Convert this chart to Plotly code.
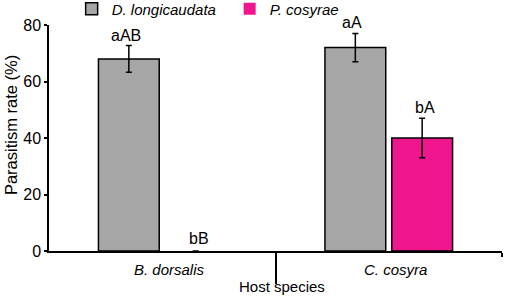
import plotly.graph_objects as go

hosts = ["B. dorsalis", "C. cosyra"]
host_pos = [0, 1]
series_names = ["D. longicaudata", "P. cosyrae"]
d_vals = [68, 72]
d_err = [4.7, 5.0]
p_vals = [0, 40]
p_err = [None, 7.0]
d_letters = ["aAB", "aA"]
p_letters = ["bB", "bA"]
y_ticks = [0, 20, 40, 60, 80]
x_title = "Host species"
y_title = "Parasitism rate (%)"

FONT = "Arial, Liberation Sans, sans-serif"
GRAY = "#a6a6a6"
PINK = "#f0168e"

fig = go.Figure()
fig.add_trace(go.Bar(
    x=host_pos, y=d_vals, name="<i>%s</i>" % series_names[0],
    marker=dict(color=GRAY, line=dict(color="black", width=1.5)),
    error_y=dict(type="data", array=d_err, visible=True, color="black", thickness=1.5, width=3),
))
fig.add_trace(go.Bar(
    x=host_pos, y=p_vals, name="<i>%s</i>" % series_names[1],
    marker=dict(color=PINK, line=dict(color="black", width=[0 if v == 0 else 1.5 for v in p_vals])),
    error_y=dict(type="data", array=p_err, visible=True, color="black", thickness=1.5, width=3),
))

annotations = []
offset = 0.161
for i, xp in enumerate(host_pos):
    for sgn, vals, errs, letters in [(-1, d_vals, d_err, d_letters), (1, p_vals, p_err, p_letters)]:
        top = vals[i] + (errs[i] or 0)
        annotations.append(dict(
            x=xp + sgn * offset, y=top, xref="x", yref="y", text=letters[i],
            showarrow=False, yanchor="bottom", yshift=0 if top > 0 else 2,
            font=dict(family=FONT, size=16, color="black")))
    annotations.append(dict(
        x=xp, y=0, xref="x", yref="y", text="<i>%s</i>" % hosts[i],
        showarrow=False, yanchor="top", yshift=-8, xshift=7,
        font=dict(family=FONT, size=15, color="black")))
annotations.append(dict(
    x=0.5, y=0, xref="x", yref="y", text=x_title,
    showarrow=False, yanchor="top", yshift=-25, xshift=6,
    font=dict(family=FONT, size=15, color="black")))
annotations.append(dict(
    x=0, y=0.557, xref="paper", yref="paper", text=y_title, textangle=-90,
    showarrow=False, xanchor="center", yanchor="middle", xshift=-38,
    font=dict(family=FONT, size=16.5, color="black")))

fig.update_layout(
    width=505, height=297,
    margin=dict(l=49, r=3, t=25, b=46, autoexpand=False),
    paper_bgcolor="white", plot_bgcolor="white",
    barmode="group", bargap=0.41, bargroupgap=0.09,
    font=dict(family=FONT, size=15, color="black"),
    showlegend=True,
    legend=dict(orientation="h", x=0.05, xanchor="left", yref="paper", y=1.071, yanchor="middle",
                font=dict(family=FONT, size=15), entrywidth=113,
                tracegroupgap=0, bgcolor="rgba(0,0,0,0)"),
    annotations=annotations,
    xaxis=dict(range=[-0.5, 1.5], showgrid=False, zeroline=False, automargin=False,
               showline=True, linecolor="black", linewidth=1.5,
               tickmode="array", tickvals=[0.5], ticktext=[""],
               ticks="outside", ticklen=31, tickwidth=1.5, tickcolor="black",
               minor=dict(tickvals=[1.5], ticks="outside", ticklen=4, tickwidth=1.5, tickcolor="black")),
    yaxis=dict(range=[0, 80], showgrid=False, zeroline=False, automargin=False,
               showline=True, linecolor="black", linewidth=1.5,
               tickmode="array", tickvals=y_ticks,
               ticks="outside", ticklen=3, tickwidth=1.5, tickcolor="black",
               tickfont=dict(family=FONT, size=16)),
)

fig.write_html("out.html", config={"displayModeBar": False},
               post_script="document.body.style.margin='0';document.body.style.overflow='hidden';")
